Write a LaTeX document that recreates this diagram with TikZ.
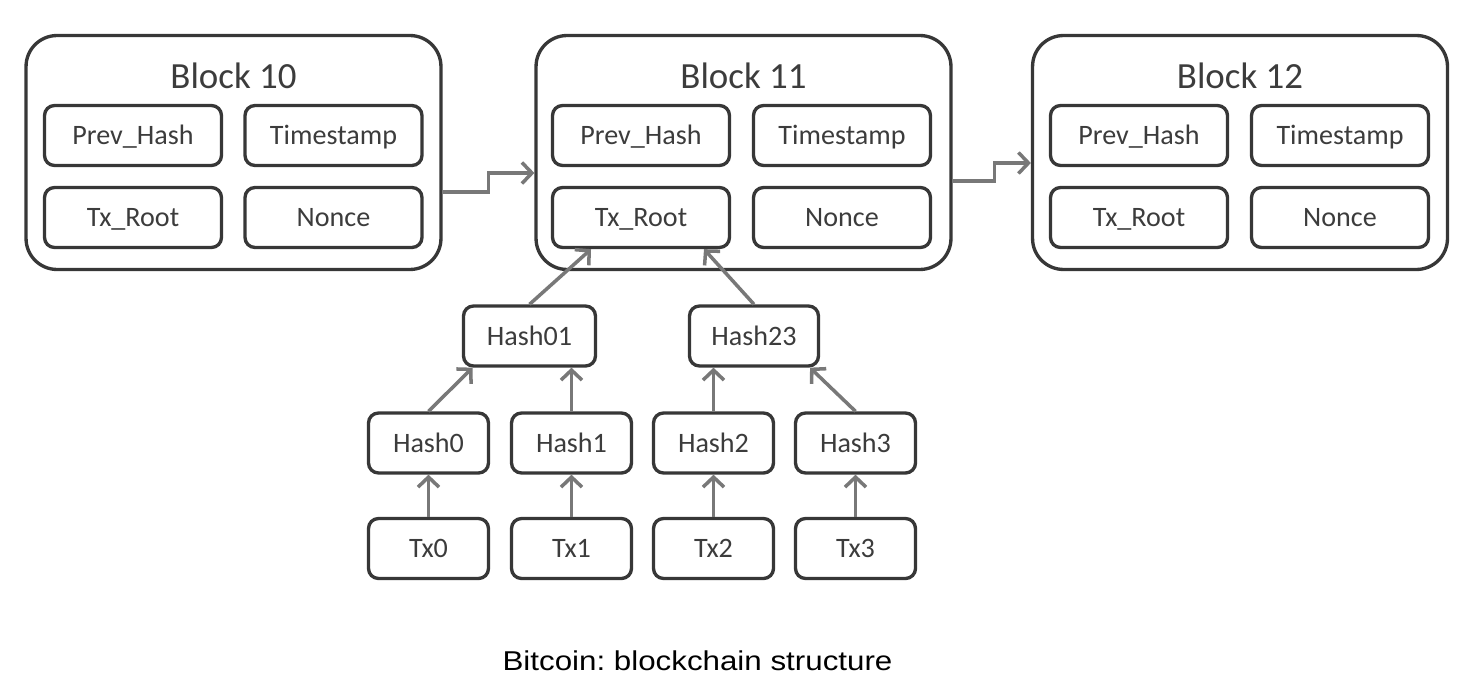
\documentclass[tikz,border=0pt]{standalone}
\usepackage{fontspec}
\setmainfont{Carlito}
\newfontfamily\capfont[FakeStretch=1.15]{Liberation Sans}
\usepackage{tikz}
\usetikzlibrary{positioning,arrows.meta,calc}
\definecolor{boxline}{RGB}{55,55,55}
\definecolor{boxtext}{RGB}{60,60,60}
\definecolor{linkgray}{RGB}{120,120,120}
\tikzset{
  block/.style={draw=boxline, line width=1.9pt, rounded corners=0.62cm,
                minimum width=8.3cm, minimum height=4.68cm, inner sep=0pt},
  blocktitle/.style={font=\fontsize{21}{24}\selectfont, text=boxtext, inner sep=0pt,
                     text height=13.5pt, text depth=0pt},
  field/.style={draw=boxline, line width=1.9pt, rounded corners=0.2cm,
                minimum width=3.54cm, minimum height=1.2cm, inner sep=0pt,
                text height=10.3pt, text depth=0pt,
                font=\fontsize{16}{19}\selectfont, text=boxtext},
  hashbox/.style={field, minimum width=2.4cm},
  link/.style={-{Straight Barb[length=2mm, width=4.2mm]}, line width=2pt, linkgray},
  chain/.style={link, rounded corners=0pt},
  caption/.style={font=\capfont\fontsize{15.5}{18}\selectfont, text=black, inner sep=0pt}
}
\begin{document}
\begin{tikzpicture}[x=0.02cm, y=-0.02cm]
\useasboundingbox (0,0) rectangle (1462,686);
% blocks
\node[block] (b10) at (233.5,152.5) {};
\node[block] (b11) at (743.5,152.5) {};
\node[block] (b12) at (1240,152.5) {};
\node[blocktitle] (t10) at ($(b10.center)+(0,-75.5)$) {Block 10};
\node[blocktitle] (t11) at ($(b11.center)+(0,-75.5)$) {Block 11};
\node[blocktitle] (t12) at ($(b12.center)+(0,-75.5)$) {Block 12};
\node[field] (p10) at ($(b10.center)+(-100.5,-17)$) {Prev\_Hash};
\node[field] (s10) at ($(b10.center)+(100,-17)$) {Timestamp};
\node[field] (r10) at ($(b10.center)+(-100.5,65)$) {Tx\_Root};
\node[field] (n10) at ($(b10.center)+(100,65)$) {Nonce};
\node[field] (p11) at ($(b11.center)+(-102.5,-17)$) {Prev\_Hash};
\node[field] (s11) at ($(b11.center)+(98.5,-17)$) {Timestamp};
\node[field] (r11) at ($(b11.center)+(-102.5,65)$) {Tx\_Root};
\node[field] (n11) at ($(b11.center)+(98.5,65)$) {Nonce};
\node[field] (p12) at ($(b12.center)+(-101,-17)$) {Prev\_Hash};
\node[field] (s12) at ($(b12.center)+(100,-17)$) {Timestamp};
\node[field] (r12) at ($(b12.center)+(-101,65)$) {Tx\_Root};
\node[field] (n12) at ($(b12.center)+(100,65)$) {Nonce};
% chain links
\draw[chain] ($(b10.east)+(0,39.5)$) -- ++(46,0) |- ($(b11.west)+(0,20.5)$);
\draw[chain] ($(b11.east)+(0,28.5)$) -- ++(42,0) |- ($(b12.west)+(0,10.5)$);
% merkle tree
\node[hashbox, minimum width=2.64cm] (h01) at (529.5,336) {Hash01};
\node[hashbox, minimum width=2.58cm] (h23) at (754,336) {Hash23};
\node[hashbox] (h0) at (428.5,443) {Hash0};
\node[hashbox] (h1) at (571.5,443) {Hash1};
\node[hashbox] (h2) at (713.5,443) {Hash2};
\node[hashbox] (h3) at (855.5,443) {Hash3};
\node[hashbox] (x0) at (428.5,548.5) {Tx0};
\node[hashbox] (x1) at (571.5,548.5) {Tx1};
\node[hashbox] (x2) at (713.5,548.5) {Tx2};
\node[hashbox] (x3) at (855.5,548.5) {Tx3};
\draw[link] (h01.north) -- ($(r11.south)+(-50,0)$);
\draw[link] (h23.north) -- ($(r11.south)+(63,0)$);
\draw[link] (h0.north) -- ($(h01.south)+(-57,0)$);
\draw[link] (h1.north) -- (h1.north |- h01.south);
\draw[link] (h2.north) -- (h2.north |- h23.south);
\draw[link] (h3.north) -- ($(h23.south)+(56,0)$);
\draw[link] (x0) -- (h0);
\draw[link] (x1) -- (h1);
\draw[link] (x2) -- (h2);
\draw[link] (x3) -- (h3);
\node[caption] (cap) at (697.5,661) {\frenchspacing Bitcoin: blockchain structure};
\end{tikzpicture}
\end{document}
